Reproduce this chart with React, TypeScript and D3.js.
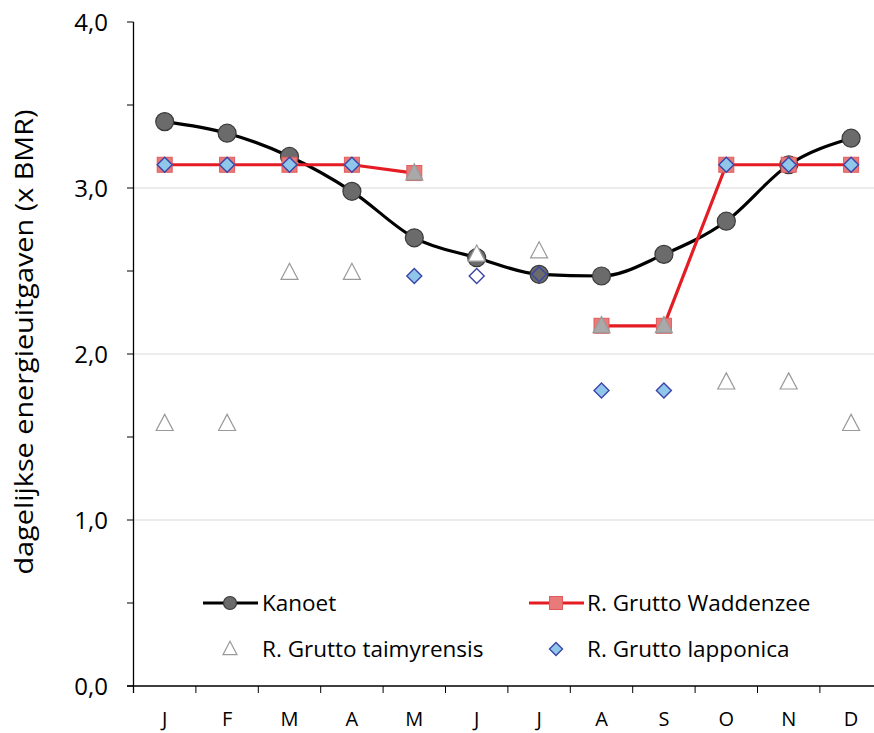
import React from "react";
import * as d3 from "d3";

const months = ["J", "F", "M", "A", "M", "J", "J", "A", "S", "O", "N", "D"];
const kanoet = [3.4, 3.33, 3.19, 2.98, 2.7, 2.58, 2.48, 2.47, 2.6, 2.8, 3.14, 3.3];
const waddenzee: (number | null)[] = [3.14, 3.14, 3.14, 3.14, 3.09, null, null, 2.17, 2.17, 3.14, 3.14, 3.14];
const taimyrensis: (number | null)[] = [1.58, 1.58, 2.49, 2.49, null, 2.6, 2.62, null, null, 1.83, 1.83, 1.58];
const taimyrensisShared: (number | null)[] = [null, null, null, null, 3.09, null, null, 2.17, 2.17, null, null, null];
const lapponica: (number | null)[] = [3.14, 3.14, 3.14, 3.14, 2.47, null, null, 1.78, 1.78, 3.14, 3.14, 3.14];
const lapponicaEstimated: (number | null)[] = [null, null, null, null, null, 2.47, 2.48, null, null, null, null, null];
const yTicks = [0, 1, 2, 3, 4];
const yMinorTicks = [0, 0.5, 1, 1.5, 2, 2.5, 3, 3.5, 4];
const yGrid = [1, 2, 3];
const legendItems = ["Kanoet", "R. Grutto Waddenzee", "R. Grutto taimyrensis", "R. Grutto lapponica"];
const yTitle = "dagelijkse energieuitgaven (x BMR)";

const W = 874;
const H = 733;
const FONT = "'Open Sans', 'Noto Sans', sans-serif";

export default function App() {
  const idx = months.map((_, i) => i);
  const x = d3.scaleBand<number>().domain(idx).range([133.5, 133.5 + 12 * 62.4]).padding(0);
  const cx = (i: number) => (x(i) as number) + x.bandwidth() / 2;
  const y = d3.scaleLinear().domain([0, 4]).range([686, 22]);

  const kLine = d3
    .line<number>()
    .x((_, i) => cx(i))
    .y((d) => y(d))
    .curve(d3.curveMonotoneX);
  const wLine = d3
    .line<number | null>()
    .defined((d) => d != null)
    .x((_, i) => cx(i))
    .y((d) => y(d as number));

  const tri = (px: number, py: number, s: number) =>
    `M${px},${py - s * 0.55} L${px + s * 0.5},${py + s * 0.4} L${px - s * 0.5},${py + s * 0.4} Z`;
  const dia = (px: number, py: number, s: number) =>
    `M${px},${py - s} L${px + s},${py} L${px},${py + s} L${px - s},${py} Z`;

  const circle = (px: number, py: number, key: string, r = 9) => (
    <circle key={key} cx={px} cy={py} r={r} fill="#6b6b6b" stroke="#3a3a3a" strokeWidth={1.2} />
  );
  const square = (px: number, py: number, key: string, s = 15) => (
    <rect key={key} x={px - s / 2} y={py - s / 2} width={s} height={s} fill="#e87a7a" stroke="#e35a5a" strokeWidth={1} />
  );
  const triangle = (px: number, py: number, key: string, filled = false, s = 17) => (
    <path key={key} d={tri(px, py, s)} fill={filled ? "#a9a9a9" : "#ffffff"} stroke="#9a9a9a" strokeWidth={1.2} />
  );
  const diamond = (px: number, py: number, key: string, open = false, s = 7.5) => (
    <path key={key} d={dia(px, py, s)} fill={open ? "none" : "#8fc6ea"} stroke="#3a45a8" strokeWidth={1.4} />
  );

  const legendRows = [603, 649];
  const legendCols = [230, 556];
  const textX = [262, 587];

  return (
    <svg width={W} height={H} style={{ position: "absolute", left: 0, top: 0, background: "#fff" }} fontFamily={FONT}>
      {/* gridlines */}
      {yGrid.map((v) => (
        <line key={"g" + v} x1={133.5} x2={W} y1={y(v)} y2={y(v)} stroke="#d9d9d9" strokeWidth={1} />
      ))}
      {/* y axis */}
      <line x1={133.5} x2={133.5} y1={y(4)} y2={693} stroke="#000" strokeWidth={1.3} />
      {yMinorTicks.map((v) => (
        <line key={"yt" + v} x1={127} x2={133.5} y1={y(v)} y2={y(v)} stroke="#000" strokeWidth={1} />
      ))}
      {yTicks.map((v) => (
        <text key={"yl" + v} x={108} y={y(v)} dy="0.36em" textAnchor="end" fontSize={24} fill="#000">
          {d3.format(".1f")(v).replace(".", ",")}
        </text>
      ))}
      {/* x axis */}
      <line x1={127} x2={W} y1={686} y2={686} stroke="#000" strokeWidth={1.3} />
      {idx.map((i) => (
        <line key={"xt" + i} x1={x(i) as number} x2={x(i) as number} y1={686} y2={693} stroke="#000" strokeWidth={1} />
      ))}
      {months.map((m, i) => (
        <text key={"xl" + i} x={cx(i)} y={726} textAnchor="middle" fontSize={20} fill="#000">
          {m}
        </text>
      ))}
      <text
        transform={`translate(33,342) rotate(-90)`}
        textAnchor="middle"
        fontSize={25}
        textLength={465}
        lengthAdjust="spacingAndGlyphs"
        fill="#000"
      >
        {yTitle}
      </text>

      {/* Kanoet */}
      <path d={kLine(kanoet) as string} fill="none" stroke="#000" strokeWidth={3.2} />
      {kanoet.map((v, i) => circle(cx(i), y(v), "k" + i))}

      {/* Waddenzee */}
      <path d={wLine(waddenzee) as string} fill="none" stroke="#e41d25" strokeWidth={3.2} />
      {waddenzee.map((v, i) => (v == null ? null : square(cx(i), y(v), "w" + i)))}

      {/* taimyrensis */}
      {taimyrensis.map((v, i) => (v == null ? null : triangle(cx(i), y(v), "t" + i)))}
      {taimyrensisShared.map((v, i) => (v == null ? null : triangle(cx(i), y(v), "ts" + i, true)))}

      {/* lapponica */}
      {lapponica.map((v, i) => (v == null ? null : diamond(cx(i), y(v), "l" + i)))}
      {lapponicaEstimated.map((v, i) => (v == null ? null : diamond(cx(i), y(v), "le" + i, true)))}

      {/* legend */}
      <line x1={legendCols[0] - 27} x2={legendCols[0] + 28} y1={legendRows[0]} y2={legendRows[0]} stroke="#000" strokeWidth={3.2} />
      {circle(legendCols[0], legendRows[0], "lgk", 6.5)}
      <line x1={legendCols[1] - 27} x2={legendCols[1] + 28} y1={legendRows[0]} y2={legendRows[0]} stroke="#e41d25" strokeWidth={3.2} />
      {square(legendCols[1], legendRows[0], "lgw", 13)}
      {triangle(legendCols[0], legendRows[1], "lgt", false, 14)}
      {diamond(legendCols[1], legendRows[1], "lgl", false, 6.5)}
      {legendItems.map((t, k) => (
        <text key={"lt" + k} x={textX[k % 2]} y={legendRows[Math.floor(k / 2)]} dy="0.36em" fontSize={22.5} fill="#000">
          {t}
        </text>
      ))}
    </svg>
  );
}
